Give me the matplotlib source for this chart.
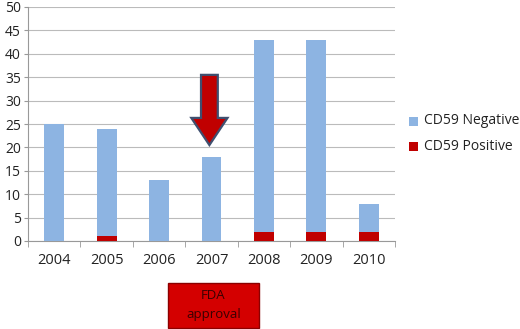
import matplotlib
matplotlib.use("Agg")
import matplotlib.pyplot as plt
from matplotlib.patches import FancyArrow, Rectangle
import numpy as np

years = ["2004", "2005", "2006", "2007", "2008", "2009", "2010"]
cd59_positive = [0, 1, 0, 0, 2, 2, 2]
cd59_negative = [25, 23, 13, 18, 41, 41, 6]
yticks = [0, 5, 10, 15, 20, 25, 30, 35, 40, 45, 50]

blue = "#8DB4E2"
red = "#C00000"

plt.rcParams['font.family'] = ['Open Sans', 'DejaVu Sans']

W, H = 520, 329
fig = plt.figure(figsize=(W / 100, H / 100), dpi=100)
ax = fig.add_axes([28 / W, (H - 241) / H, 367 / W, (241 - 7) / H])

x = np.arange(len(years))
bw = 0.38
ax.bar(x, cd59_positive, bw, color=red, zorder=3)
ax.bar(x, cd59_negative, bw, bottom=cd59_positive, color=blue, zorder=3)

ax.set_xlim(-0.5, len(years) - 0.5)
ax.set_ylim(0, 50)
ax.set_yticks(yticks)
ax.set_yticklabels([str(v) for v in yticks], fontsize=10, color="#222222")
ax.set_xticks(x)
ax.set_xticklabels(years, fontsize=10.5, color="#222222")
ax.tick_params(axis='x', length=0, pad=9)
ax.tick_params(axis='y', length=3, color="#999999", pad=2)
# category boundary ticks
ax.set_xticks(np.arange(-0.5, len(years)), minor=True)
ax.tick_params(axis='x', which='minor', length=4, color="#999999")
ax.yaxis.grid(True, color="#BBBBBB", linewidth=0.8, zorder=0)
for s in ["top", "right"]:
    ax.spines[s].set_visible(False)
for s in ["left", "bottom"]:
    ax.spines[s].set_color("#999999")

# FDA arrow at 2007
arr = FancyArrow(3 - 0.04, 35.5, 0, -15.0, width=0.32, head_width=0.69,
                 head_length=5.8, length_includes_head=True,
                 facecolor=red, edgecolor="#3F4F6F", linewidth=1.6, zorder=5)
ax.add_patch(arr)

# Legend
fig.patches.append(Rectangle((409 / W, 1 - 126 / H), 9 / W, 9 / H, transform=fig.transFigure,
                             facecolor=blue, edgecolor="none"))
fig.patches.append(Rectangle((409 / W, 1 - 151 / H), 9 / W, 9 / H, transform=fig.transFigure,
                             facecolor=red, edgecolor="none"))
fig.text(424 / W, 1 - 121 / H, "CD59 Negative", fontsize=10, va='center', ha='left', color="#222222")
fig.text(424 / W, 1 - 146 / H, "CD59 Positive", fontsize=10, va='center', ha='left', color="#222222")

# FDA approval box
fig.patches.append(Rectangle((168 / W, 1 - 328 / H), 91 / W, 45 / H, transform=fig.transFigure,
                             facecolor="#D40000", edgecolor="#8B0000", linewidth=1))
fig.text(213.5 / W, 1 - 305 / H, "FDA\napproval", fontsize=9.5, ha='center', va='center',
         color="#3A0000", linespacing=1.6)

fig.savefig("out.png", dpi=100)
